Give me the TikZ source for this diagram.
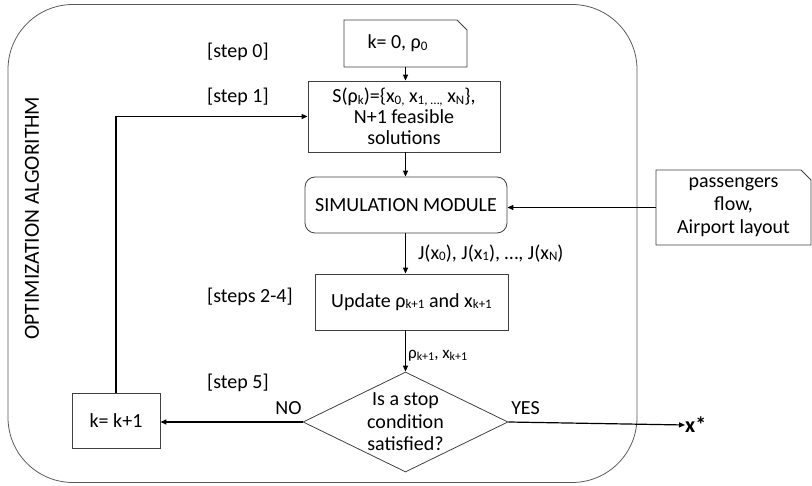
\documentclass[tikz,border=0pt]{standalone}
\usepackage{fontspec}
\setmainfont{Carlito}
\usetikzlibrary{%
	positioning,
	shapes.geometric,
	shapes.misc,
	arrows.meta
}

% lowered small index, as in k_0
\newcommand\lo[2][13]{\raisebox{-1.5pt}{\fontsize{#1}{#1}\selectfont #2}}

\begin{document}
\begin{tikzpicture}[x=1pt,y=1pt,
		every node/.style={font=\fontsize{20}{23}\selectfont},
		SBox/.style={draw=black!75,line width=.8pt,shape=rectangle,align=center,inner sep=2pt},
		SSnip/.style={SBox,chamfered rectangle,chamfered rectangle corners=north east,chamfered rectangle xsep=5pt,chamfered rectangle ysep=5pt},
		flow/.style={-{Triangle[length=6pt,width=5pt]},line width=1.2pt},
		steplabel/.style={anchor=west,inner sep=0pt}
	]
	\useasboundingbox (0,0) rectangle (812,-486);
	
	%frame of the algorithm
	\node(frame) [draw=black!65,line width=.8pt,rounded corners=65pt,minimum width=629pt,minimum height=478pt] at (322.5,-243.5) {};
	\node(opt) [rotate=90,font=\fontsize{21.5}{24}\selectfont] at (32,-218) {OPTIMIZATION ALGORITHM};
	
	%main column
	\node(init) [SSnip,minimum width=123pt,minimum height=47pt] at (405.5,-43.5) {k= 0, ρ\lo{0}\hspace{16pt}};
	\node(sols) [SBox,minimum width=192pt,minimum height=71pt,font=\fontsize{20}{21}\selectfont] at (404,-116.5)
		{S(ρ\lo{k})=\{x\lo{0,} x\lo{1, …,} x\lo{N}\},\\ N+1 feasible\\ solutions};
	\node(sim) [SBox,rounded corners=10pt,minimum width=202pt,minimum height=56pt] at (406,-205) {SIMULATION MODULE};
	\node(upd) [SBox,minimum width=193pt,minimum height=56pt] at (411.5,-302) {Update ρ\lo{k+1} and x\lo{k+1}};
	\node(stop) [diamond,draw=black!75,line width=.8pt,inner sep=0pt,minimum width=205pt,minimum height=100pt,
		label={[align=center,font=\fontsize{20}{22.5}\selectfont]center:Is a stop\\condition\\satisfied?}] at (405.5,-422) {};
	
	%side boxes
	\node(kinc) [SBox,minimum width=88pt,minimum height=55pt] at (116,-420.5) {k= k+1};
	\node(pass) [SSnip,minimum width=155pt,minimum height=75pt] at (733.5,-207.5) {passengers\\flow,\\Airport layout};
	\node(xstar) [anchor=west,inner sep=0pt,font=\fontsize{22}{24}\selectfont] at (685,-425) {\textbf{x*}};
	
	%step labels
	\node(step0) [steplabel] at (207,-52) {[step 0]};
	\node(step1) [steplabel] at (207,-97) {[step 1]};
	\node(step24) [steplabel] at (207,-297) {[steps 2-4]};
	\node(step5) [steplabel] at (207,-383) {[step 5]};
	\node(no) at (288.5,-408) {NO};
	\node(yes) at (525.5,-408) {YES};
	
	%arrows
	\draw [flow] (init.south) -- (init.south |- sols.north);
	\draw [flow] (sols.south -| init.south) -- (sim.north -| init.south);
	\draw [flow] (sim.south -| init.south) to node [right=12pt,inner sep=0pt] {J(x\lo{0}), J(x\lo{1}), …, J(x\lo{N})} (upd.north -| init.south);
	\draw [flow] (upd.south -| stop.north) to node [right=2pt,pos=.62,inner sep=0pt,font=\fontsize{17}{19}\selectfont] {ρ\lo[12]{k+1}, x\lo[12]{k+1}} (stop.north);
	\draw [flow] (stop.west) -- (stop.west -| kinc.east);
	\draw [flow] (kinc.north) |- (sols.west);
	\draw [flow] (pass.west) -- (pass.west -| sim.east);
	\draw [flow] (stop.east) -- (xstar.west);
	
\end{tikzpicture}
\end{document}
